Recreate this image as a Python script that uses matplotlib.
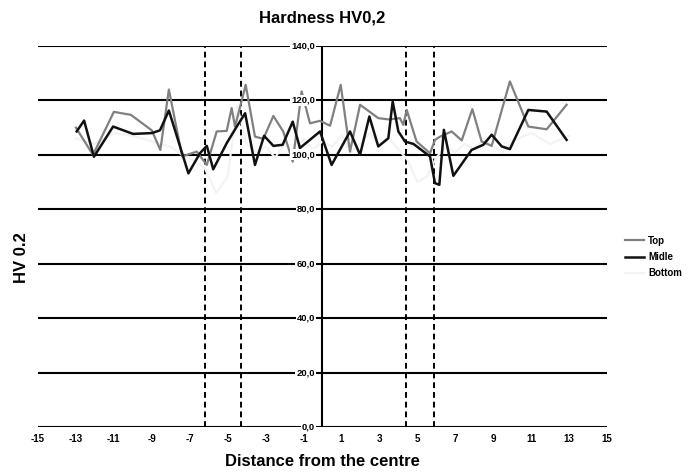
import numpy as np
import matplotlib
matplotlib.use('Agg')
from matplotlib import pyplot as plt

plt.rcParams['font.family'] = ['Liberation Sans', 'DejaVu Sans']
plt.rcParams['axes.unicode_minus'] = False

# Data
top_x = [-13.0, -12.1, -11.0, -10.1, -9.0, -8.55, -8.1, -7.4, -6.63, -6.1, -5.58, -5.05,
         -4.79, -4.61, -4.05, -3.56, -3.12, -2.59, -2.07, -1.57, -1.1, -0.66, -0.13,
         0.4, 0.96, 1.45, 1.98, 2.94, 3.5, 4.08, 4.26, 4.44, 4.96, 5.67, 5.93, 6.2,
         6.81, 7.34, 7.9, 8.39, 8.92, 9.88, 10.85, 11.82, 12.87]
top_y = [110, 100, 115.8, 114.7, 109, 101.8, 124, 99.4, 101.2, 96.3, 108.6, 108.8,
         117.2, 110.4, 125.7, 106.7, 105.9, 114.3, 108.6, 97.5, 123.3, 111.6, 112.5,
         110.7, 125.7, 101.2, 118.4, 113.5, 113, 113.5, 111, 116.5, 104.9, 100.6, 105.5, 106.7,
         108.6, 105.3, 116.8, 104.9, 103.3, 127, 110.4, 109.4, 118.4]

mid_x = [-12.96, -12.57, -12.05, -11.04, -9.99, -9.0, -8.57, -8.1, -7.07, -6.46, -6.1,
         -5.76, -5.05, -4.52, -4.08, -3.56, -3.08, -2.59, -2.1, -1.57, -1.19, -0.13,
         0.48, 1.45, 1.98, 2.47, 2.94, 3.47, 3.7, 4.0, 4.35, 4.8, 5.67, 5.93, 6.16,
         6.4, 6.9, 7.86, 8.48, 8.92, 9.45, 9.88, 10.85, 11.82, 12.87]
mid_y = [108.6, 112.6, 99.3, 110.4, 107.7, 108, 109, 116.3, 93.2, 100.6, 103.3,
         94.7, 104.3, 110.4, 115.3, 96.3, 107, 103.3, 103.7, 112.2, 102.5, 108.6,
         96.3, 108.6, 100, 114.1, 103.1, 106.1, 119.6, 108.6, 104.9, 104, 99.4, 89.6, 89,
         109.2, 92.3, 101.8, 103.7, 107.4, 103.1, 102.1, 116.5, 115.9, 105.5]

bot_x = [-13, -12, -11, -10, -9, -8, -7.4, -6.8, -6.2, -5.6, -5.0, -4.5, -4.0, -3.5, -3,
         -2.5, -2, -1.5, -1, -0.5, 0, 0.5, 1, 1.5, 2, 2.5, 3, 3.5, 4, 4.5, 5, 5.5, 6,
         6.5, 7, 7.5, 8, 8.5, 9, 9.5, 10, 11, 12, 13]
bot_y = [106, 104, 108, 107, 105, 103, 100, 98, 95, 86, 92, 118, 104, 101, 103,
         99, 104, 100, 106, 102, 105, 103, 107, 101, 104, 108, 103, 106, 102, 98, 90, 92, 99,
         103, 101, 104, 102, 106, 103, 101, 105, 108, 104, 107]

x_ticks = list(range(-15, 16, 2))
y_levels = [0, 20, 40, 60, 80, 100, 120, 140]
zone_edges = [-6.2, -4.3, 4.4, 5.9]

# Plotting
fig = plt.figure(figsize=(6.94, 4.74), dpi=100)
ax = fig.add_axes([38 / 694, 1 - 427 / 474, (607 - 38) / 694, (427 - 46) / 474])

for v in y_levels:
    ax.axhline(v, color='black', lw=1.5, zorder=1)
ax.axvline(0, color='black', lw=1.5, zorder=1)
for xe in zone_edges:
    ax.axvline(xe, color='black', lw=1.4, ls=(0, (3, 2)), zorder=1)

ax.plot(bot_x, bot_y, color='#f3f3f3', lw=1.6, label='Bottom', zorder=2)
ax.plot(top_x, top_y, color='#808080', lw=1.6, label='Top', zorder=3)
ax.plot(mid_x, mid_y, color='#111111', lw=1.8, label='Midle', zorder=4)

for v in y_levels:
    ax.text(-0.4, v, f'{v:.1f}'.replace('.', ','), ha='right', va='center',
            fontsize=6.8, fontweight='bold', zorder=5,
            bbox=dict(boxstyle='square,pad=0.1', fc='white', ec='none'))

ax.set_xlim(-15, 15)
ax.set_ylim(0, 140)
ax.set_xticks(x_ticks)
ax.set_yticks([])
ax.tick_params(axis='x', length=0, pad=5, labelsize=7)
for lbl in ax.get_xticklabels():
    lbl.set_fontweight('bold')
for s in ax.spines.values():
    s.set_visible(False)

fig.text(322 / 694, 1 - 18 / 474, 'Hardness HV0,2', ha='center', va='center',
         fontsize=12, fontweight='bold')
fig.text(322 / 694, 1 - 461 / 474, 'Distance from the centre', ha='center', va='center',
         fontsize=12, fontweight='bold')
fig.text(22 / 694, 1 - 258 / 474, 'HV 0.2', ha='center', va='center', rotation=90,
         fontsize=12, fontweight='bold')

handles, labels = ax.get_legend_handles_labels()
order = [1, 2, 0]
leg = fig.legend([handles[i] for i in order], [labels[i] for i in order],
                 loc='center left', bbox_to_anchor=(625 / 694, 1 - 257 / 474),
                 frameon=False, fontsize=7, handlelength=2.0, labelspacing=0.65,
                 handletextpad=0.4, borderpad=0, borderaxespad=0)
for t in leg.get_texts():
    t.set_fontweight('bold')

fig.savefig('out.png', dpi=100)
